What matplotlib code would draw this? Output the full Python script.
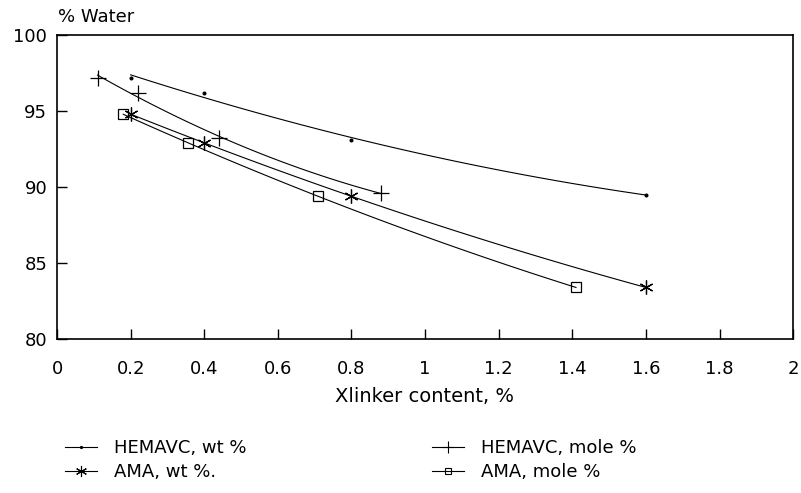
import numpy as np
import matplotlib.pyplot as plt

plt.rcParams['font.family'] = ['DejaVu Sans']

# values
hem_wt_x = [0.2, 0.4, 0.8, 1.6]
hem_wt_y = [97.2, 96.2, 93.1, 89.5]
hem_mol_x = [0.11, 0.22, 0.44, 0.88]
hem_mol_y = [97.2, 96.2, 93.2, 89.6]
ama_wt_x = [0.2, 0.4, 0.8, 1.6]
ama_wt_y = [94.8, 92.9, 89.4, 83.4]
ama_mol_x = [0.18, 0.355, 0.71, 1.41]
ama_mol_y = [94.8, 92.9, 89.4, 83.4]

xticks = [0, 0.2, 0.4, 0.6, 0.8, 1, 1.2, 1.4, 1.6, 1.8, 2]
xticklabels = ['0', '0.2', '0.4', '0.6', '0.8', '1', '1.2', '1.4', '1.6', '1.8', '2']
yticks = [80, 85, 90, 95, 100]

fig = plt.figure(figsize=(8.01, 4.93), dpi=100)
ax = fig.add_axes([0.0712, 0.312, 0.919, 0.617])

def series(x, y, marker, ms, lms, label, mew=0.9):
    # smooth fitted curve through the points, like the original
    c = np.polyfit(x, y, 2)
    xs = np.linspace(min(x), max(x), 100)
    ax.plot(xs, np.polyval(c, xs), color='black', lw=0.8)
    ax.plot(x, y, ls='none', marker=marker, ms=ms, color='black',
            mfc='none' if marker == 's' else 'black', mew=mew)
    # legend proxy
    return ax.plot([], [], color='black', lw=0.8, marker=marker, ms=lms,
                   mfc='none' if marker == 's' else 'black', mew=0.8, label=label)[0]

h1 = series(hem_wt_x, hem_wt_y, '.', 4, 3, 'HEMAVC, wt %')
h2 = series(hem_mol_x, hem_mol_y, '+', 11, 8, 'HEMAVC, mole %')
h3 = series(ama_wt_x, ama_wt_y, (6, 2, 0), 10, 8, 'AMA, wt %.')
h4 = series(ama_mol_x, ama_mol_y, 's', 7, 5, 'AMA, mole %')

ax.set_xlim(0, 2)
ax.set_ylim(80, 100)
ax.set_xticks(xticks)
ax.set_xticklabels(xticklabels)
ax.set_yticks(yticks)
ax.tick_params(direction='in', length=7, width=1, labelsize=13)
ax.tick_params(axis='x', pad=15)
ax.tick_params(axis='y', pad=7)
for s in ax.spines.values():
    s.set_linewidth(1.2)

fig.text(0.073, 0.966, '% Water', fontsize=13, va='center', ha='left')
fig.text(0.53, 0.195, 'Xlinker content, %', fontsize=14, ha='center', va='center')

lkw = dict(frameon=False, fontsize=13, loc='upper left', borderpad=0,
           handlelength=1.75, handletextpad=0.95, labelspacing=0.3)
fig.legend(handles=[h1, h3], bbox_to_anchor=(0.070, 0.127), **lkw)
fig.legend(handles=[h2, h4], bbox_to_anchor=(0.528, 0.127), **lkw)

fig.savefig('out.png', dpi=100)
